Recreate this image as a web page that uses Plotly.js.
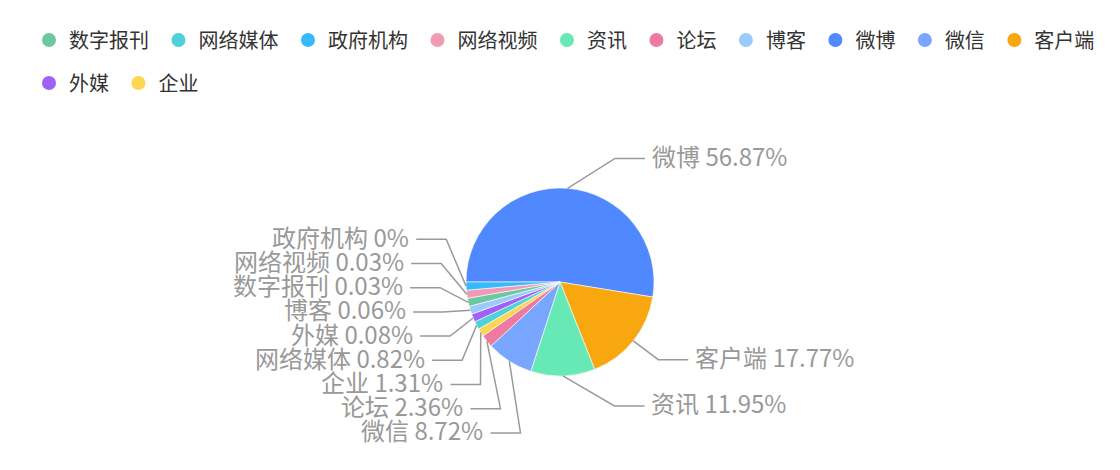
<!DOCTYPE html>
<html>
<head>
<meta charset="utf-8">
<script src="https://cdn.plot.ly/plotly-3.0.1.min.js"></script>
<style>
  html, body { margin: 0; padding: 0; background: #fff; }
  #chart { width: 1120px; height: 470px; }
</style>
</head>
<body>
<div id="chart"></div>
<script>
// ---------------- data (legend order) ----------------
const categories = ['数字报刊', '网络媒体', '政府机构', '网络视频', '资讯', '论坛', '博客', '微博', '微信', '客户端', '外媒', '企业'];
const percents   = [0.03, 0.82, 0, 0.03, 11.95, 2.36, 0.06, 56.87, 8.72, 17.77, 0.08, 1.31];
const colors     = ['#6cc8a0', '#50d0d9', '#36b9fd', '#f29ab4', '#66e9b4', '#ef7a9f', '#9ccaff', '#5088ff', '#79a7ff', '#f9a70f', '#9f62f6', '#fdd652'];
const legendRow1 = ['数字报刊', '网络媒体', '政府机构', '网络视频', '资讯', '论坛', '博客', '微博', '微信', '客户端'];
const legendRow2 = ['外媒', '企业'];

// ---------------- style / layout constants ----------------
const W = 1120, H = 470;
const CX = 560, CY = 282, RADIUS = 94;       // pie centre and radius (px)
const LINE_LEN = 30, LINE_LEN2 = 30;         // label line segments (px)
const LINE_END_R = 150;                       // distance of line ends from centre
const FALLBACK_STEP = 20;                     // x step for labels below/above the curve
const LABEL_FONT = 24, LABEL_H = 24.2;        // label font size and row height
const LABEL_BOTTOM = 445;                     // lower bound for label stacking
const TEXT_GAP = 5;
const MIN_ANGLE = 5;                          // minimum slice angle (deg)
const START_ANGLE = 180;                      // screen angle of first slice start (9 o'clock)
const FONT = '"Noto Sans CJK SC", "Noto Sans", sans-serif';

// ---------------- order slices by value (descending, stable) ----------------
const order = categories.map((c, i) => i).sort((a, b) => percents[b] - percents[a] || a - b);
const sLabels = order.map(i => categories[i]);
const sValues = order.map(i => percents[i]);
const sColors = order.map(i => colors[i]);

// slice angles with a minimum angle (as the original chart does)
const total = sValues.reduce((s, v) => s + v, 0);
let restAngle = 360, sumLarge = 0;
const rawAngles = sValues.map(v => v / total * 360);
rawAngles.forEach((a, i) => { if (a < MIN_ANGLE) restAngle -= MIN_ANGLE; else sumLarge += sValues[i]; });
const sAngles = sValues.map((v, i) => rawAngles[i] < MIN_ANGLE ? MIN_ANGLE : v / sumLarge * restAngle);

// ---------------- outside label layout ----------------
const items = [];
let cum = START_ANGLE;
sAngles.forEach((a, i) => {
  const mid = (cum + a / 2) * Math.PI / 180;
  cum += a;
  const dx = Math.cos(mid), dy = Math.sin(mid);
  items.push({
    text: sLabels[i] + ' ' + sValues[i] + '%',
    dir: dx < 0 ? -1 : 1,
    ex: CX + RADIUS * dx, ey: CY + RADIUS * dy,          // point on the slice edge
    y: CY + (RADIUS + LINE_LEN) * dy                       // initial label row
  });
});

function layoutSide(list, dir) {
  if (!list.length) return;
  list.sort((a, b) => a.y - b.y);
  // push down so that rows do not overlap
  let lastBottom = -Infinity;
  list.forEach(it => {
    if (it.y - LABEL_H / 2 < lastBottom) it.y = lastBottom + LABEL_H / 2;
    lastBottom = it.y + LABEL_H / 2;
  });
  // if the stack leaves the bottom bound, move it up
  const over = lastBottom - LABEL_BOTTOM;
  if (over > 0) {
    const room = list[0].y - LABEL_H / 2;
    const move = Math.min(over, room);
    list.forEach(it => { it.y -= move; });
  }
  // x of each line end: on a circle, or stepped when beyond it
  const inner = RADIUS + LINE_LEN;
  const down = list.filter(it => it.y >= CY);
  const up = list.filter(it => it.y < CY).reverse();
  [down, up].forEach(sub => {
    let last = Infinity;
    sub.forEach(it => {
      const d = Math.abs(it.y - CY);
      let ddx = d < inner ? Math.sqrt(LINE_END_R * LINE_END_R - d * d) : last - FALLBACK_STEP;
      if (ddx >= last) ddx = last - FALLBACK_STEP;
      last = ddx;
      it.lineEnd = CX + dir * ddx;
      it.elbow = it.lineEnd - dir * LINE_LEN2;
      it.textX = it.lineEnd + dir * TEXT_GAP;
    });
  });
}
layoutSide(items.filter(it => it.dir < 0), -1);
layoutSide(items.filter(it => it.dir > 0), 1);

const px = x => x / W;
const py = y => 1 - y / H;

const annotations = items.map(it => ({
  xref: 'paper', yref: 'paper', x: px(it.textX), y: py(it.y), yshift: 3,
  xanchor: it.dir < 0 ? 'right' : 'left', yanchor: 'middle',
  text: it.text, showarrow: false,
  font: { family: FONT, size: LABEL_FONT, color: '#999999' }
}));

const shapes = items.map(it => ({
  type: 'path', xref: 'paper', yref: 'paper',
  path: 'M' + [[it.ex, it.ey], [it.elbow, it.y], [it.lineEnd, it.y]]
    .map(p => px(p[0]).toFixed(5) + ',' + py(p[1]).toFixed(5)).join(' L'),
  line: { color: '#9a9a9a', width: 1.5 }, fillcolor: 'rgba(0,0,0,0)'
}));

// ---------------- traces ----------------
const pieTrace = {
  type: 'pie',
  labels: sLabels,
  values: sAngles,
  customdata: sValues,
  marker: { colors: sColors, line: { color: '#ffffff', width: 0.6 } },
  sort: false,
  direction: 'clockwise',
  rotation: -90,
  textinfo: 'none',
  hovertemplate: '%{label}: %{customdata}%<extra></extra>',
  showlegend: false,
  domain: { x: [px(CX - RADIUS), px(CX + RADIUS)], y: [py(CY + RADIUS), py(CY - RADIUS)] }
};

function legendTrace(name, legendId) {
  const idx = categories.indexOf(name);
  return {
    type: 'scatter', mode: 'markers', x: [null], y: [null], name: name + '\u00a0',
    legend: legendId, hoverinfo: 'skip',
    marker: { color: colors[idx], size: 14, symbol: 'circle' }
  };
}
const legendTraces = legendRow1.map(n => legendTrace(n, 'legend')).concat(legendRow2.map(n => legendTrace(n, 'legend2')));

const legendCommon = {
  orientation: 'h', xanchor: 'left', yanchor: 'middle',
  font: { family: FONT, size: 20, color: '#333333' },
  bgcolor: 'rgba(0,0,0,0)', itemclick: false, itemdoubleclick: false
};

const layout = {
  width: W, height: H,
  margin: { l: 0, r: 0, t: 0, b: 0, autoexpand: false },
  paper_bgcolor: '#ffffff', plot_bgcolor: '#ffffff',
  xaxis: { visible: false, showgrid: false, zeroline: false },
  yaxis: { visible: false, showgrid: false, zeroline: false },
  legend: Object.assign({}, legendCommon, { x: px(29), y: py(40) }),
  legend2: Object.assign({}, legendCommon, { x: px(29), y: py(83) }),
  annotations: annotations,
  shapes: shapes,
  showlegend: true
};

Plotly.newPlot('chart', [pieTrace].concat(legendTraces), layout, { displayModeBar: false });
</script>
</body>
</html>
